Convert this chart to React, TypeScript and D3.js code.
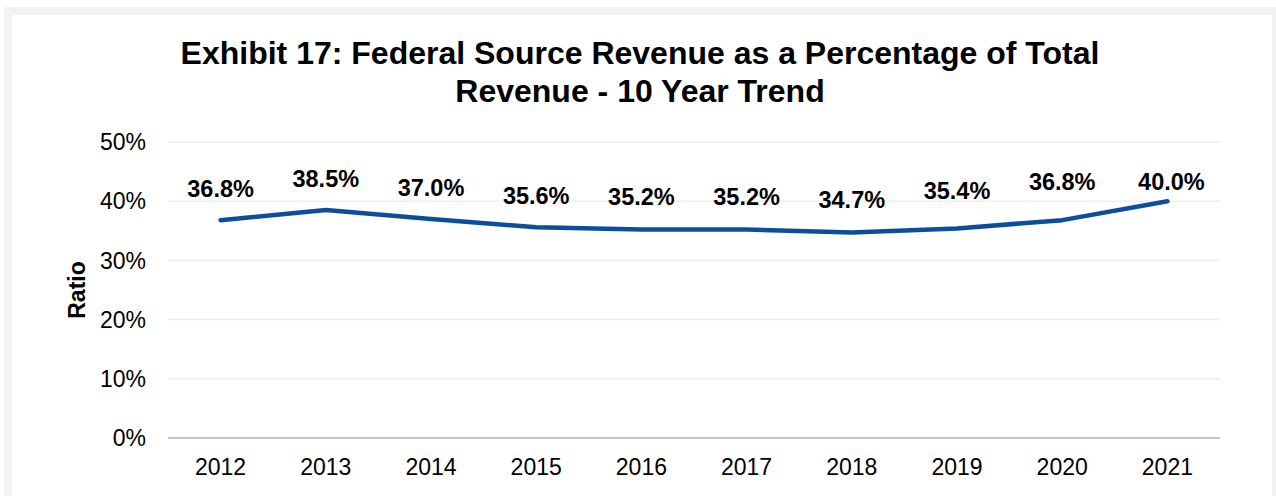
import React from "react";
import * as d3 from "d3";

const years = ["2012", "2013", "2014", "2015", "2016", "2017", "2018", "2019", "2020", "2021"];
const ratios = [0.368, 0.385, 0.37, 0.356, 0.352, 0.352, 0.347, 0.354, 0.368, 0.4];
const yTicks = [0, 0.1, 0.2, 0.3, 0.4, 0.5];
const titleLines = [
  "Exhibit 17: Federal Source Revenue as a Percentage of Total",
  "Revenue - 10 Year Trend",
];
const yAxisTitle = "Ratio";
// extra label placement nudges (dx, dy) mimicking the reference's label layout
const labelNudge: [number, number][] = [
  [0, 0], [0, 0.6], [0, 0.4], [0, 0.2], [0, -0.8], [0, -0.8], [0, -0.8], [0, -5.5], [0, -6.5], [4, 12.5],
];

const W = 1276;
const H = 496;
const FONT = "'Liberation Sans', Arial, sans-serif";

export default function App() {
  const x = d3.scaleBand<string>().domain(years).range([168, 1220]);
  const y = d3.scaleLinear().domain([0, 0.5]).range([438, 142]);
  const fmt = d3.format(".1%");
  const tickFmt = d3.format(".0%");
  const line = d3
    .line<number>()
    .x((_, i) => (x(years[i]) as number) + x.bandwidth() / 2)
    .y((d) => y(d));

  return (
    <svg
      width={W}
      height={H}
      style={{ position: "absolute", left: 0, top: 0, background: "#ffffff" }}
      fontFamily={FONT}
    >
      <rect x={4} y={7} width={1280} height={520} fill="#f2f2f2" />
      <rect x={12} y={15} width={1260} height={520} fill="#ffffff" />

      {titleLines.map((t, i) => (
        <text
          key={i}
          x={640}
          y={64 + i * 38}
          textAnchor="middle"
          fontSize={32}
          fontWeight="bold"
          fill="#000"
        >
          {t}
        </text>
      ))}

      {yTicks.map((t) => (
        <g key={t}>
          <line
            x1={168}
            x2={1220}
            y1={y(t)}
            y2={y(t)}
            stroke={t === 0 ? "#c6c6c6" : "#efefef"}
            strokeWidth={t === 0 ? 2 : 1.5}
          />
          <text x={146} y={y(t) + 8.2} textAnchor="end" fontSize={23} fill="#000">
            {tickFmt(t)}
          </text>
        </g>
      ))}

      {years.map((yr) => (
        <text
          key={yr}
          x={(x(yr) as number) + x.bandwidth() / 2}
          y={475}
          textAnchor="middle"
          fontSize={23}
          fill="#000"
        >
          {yr}
        </text>
      ))}

      <text
        transform={`translate(85,290) rotate(-90)`}
        textAnchor="middle"
        fontSize={23}
        fontWeight="bold"
        fill="#000"
      >
        {yAxisTitle}
      </text>

      <path
        d={line(ratios) || ""}
        fill="none"
        stroke="#0b4f9c"
        strokeWidth={4.5}
        strokeLinejoin="round"
        strokeLinecap="round"
      />

      {ratios.map((v, i) => (
        <text
          key={i}
          x={(x(years[i]) as number) + x.bandwidth() / 2 + labelNudge[i][0]}
          y={y(v) - 23.5 + labelNudge[i][1]}
          textAnchor="middle"
          fontSize={23.5}
          fontWeight="bold"
          fill="#000"
        >
          {fmt(v)}
        </text>
      ))}
    </svg>
  );
}
